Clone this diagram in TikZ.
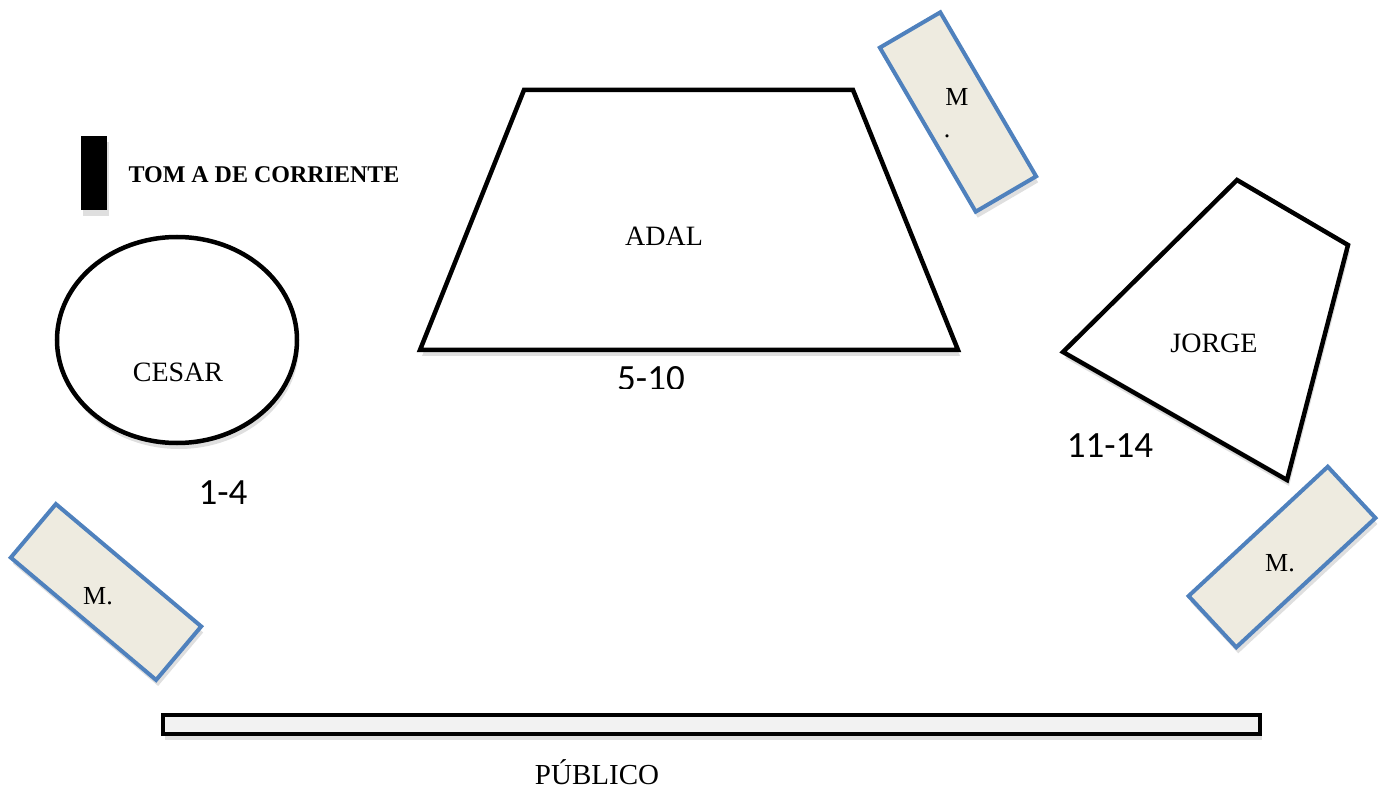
\documentclass[tikz,border=0pt]{standalone}
\usepackage{fontspec}
\setmainfont{Liberation Serif}
\newfontfamily\numfont{Carlito}
\usetikzlibrary{shadows}
\definecolor{crema}{HTML}{EEEBE0}
\definecolor{azulborde}{HTML}{4F81BD}
\tikzset{
  sombra/.style={drop shadow={shadow xshift=2pt,shadow yshift=-6pt,opacity=0.25}},
  mesa/.style={draw=black,line width=4.5pt,fill=white,line join=miter,sombra},
  mueble/.style={draw=azulborde,line width=4pt,fill=crema,inner sep=0pt,minimum width=190pt,minimum height=70pt,sombra},
  rotulo/.style={font=\fontsize{28}{32}\selectfont},
  letram/.style={font=\fontsize{26}{30}\selectfont},
  numero/.style={font=\numfont\fontsize{37}{40}\selectfont}
}
\begin{document}
\begin{tikzpicture}[x=1pt,y=-1pt]
\useasboundingbox (0,0) rectangle (1389,791);

\node[fill=black,inner sep=0pt,minimum width=26pt,minimum height=74pt,sombra] (toma) at (94,173) {};
\node[anchor=west,font=\bfseries\fontsize{24}{28}\selectfont] (leyenda) at (125,175) {TOM A DE CORRIENTE};

\draw[mesa] (177,340) ellipse [x radius=120pt, y radius=103pt];
\node[rotulo] (cesar) at (178,372) {CESAR};
\node[numero] (n1) at (223,493) {1-4};

\coordinate (a1) at (524,90);
\coordinate (a2) at (853,90);
\coordinate (a3) at (958,350);
\coordinate (a4) at (420,350);
\draw[mesa] (a1) -- (a2) -- (a3) -- (a4) -- cycle;
\node[rotulo] (adal) at (664,236) {ADAL};
\begin{scope}
\clip (560,356) rectangle (760,388);
\node[numero] (n2) at (651,379) {5-10};
\end{scope}

\coordinate (j1) at (1237,180);
\coordinate (j2) at (1348,245);
\coordinate (j3) at (1287,480);
\coordinate (j4) at (1063,352);
\draw[mesa] (j1) -- (j2) -- (j3) -- (j4) -- cycle;
\node[rotulo] (jorge) at (1214,343) {JORGE};
\node[numero] (n3) at (1110,446) {11-14};

\node[mueble,rotate=-59.7] (m1) at (958,112) {};
\node[letram] (m1a) at (957,97) {M};
\node[letram] (m1b) at (947,136) {.};
\node[mueble,rotate=-40.1] (m2) at (106,592) {};
\node[letram] (m2a) at (98,596) {M.};
\node[mueble,rotate=42.9] (m3) at (1282,557) {};
\node[letram] (m3a) at (1280,563) {M.};

\node[draw=black,line width=4pt,fill=black!5,inner sep=0pt,minimum width=1097pt,minimum height=19pt,sombra] (escenario) at (711.5,724.5) {};
\node[font=\fontsize{29}{33}\selectfont] (publico) at (597,772) {PÚBLICO};
\end{tikzpicture}
\end{document}
